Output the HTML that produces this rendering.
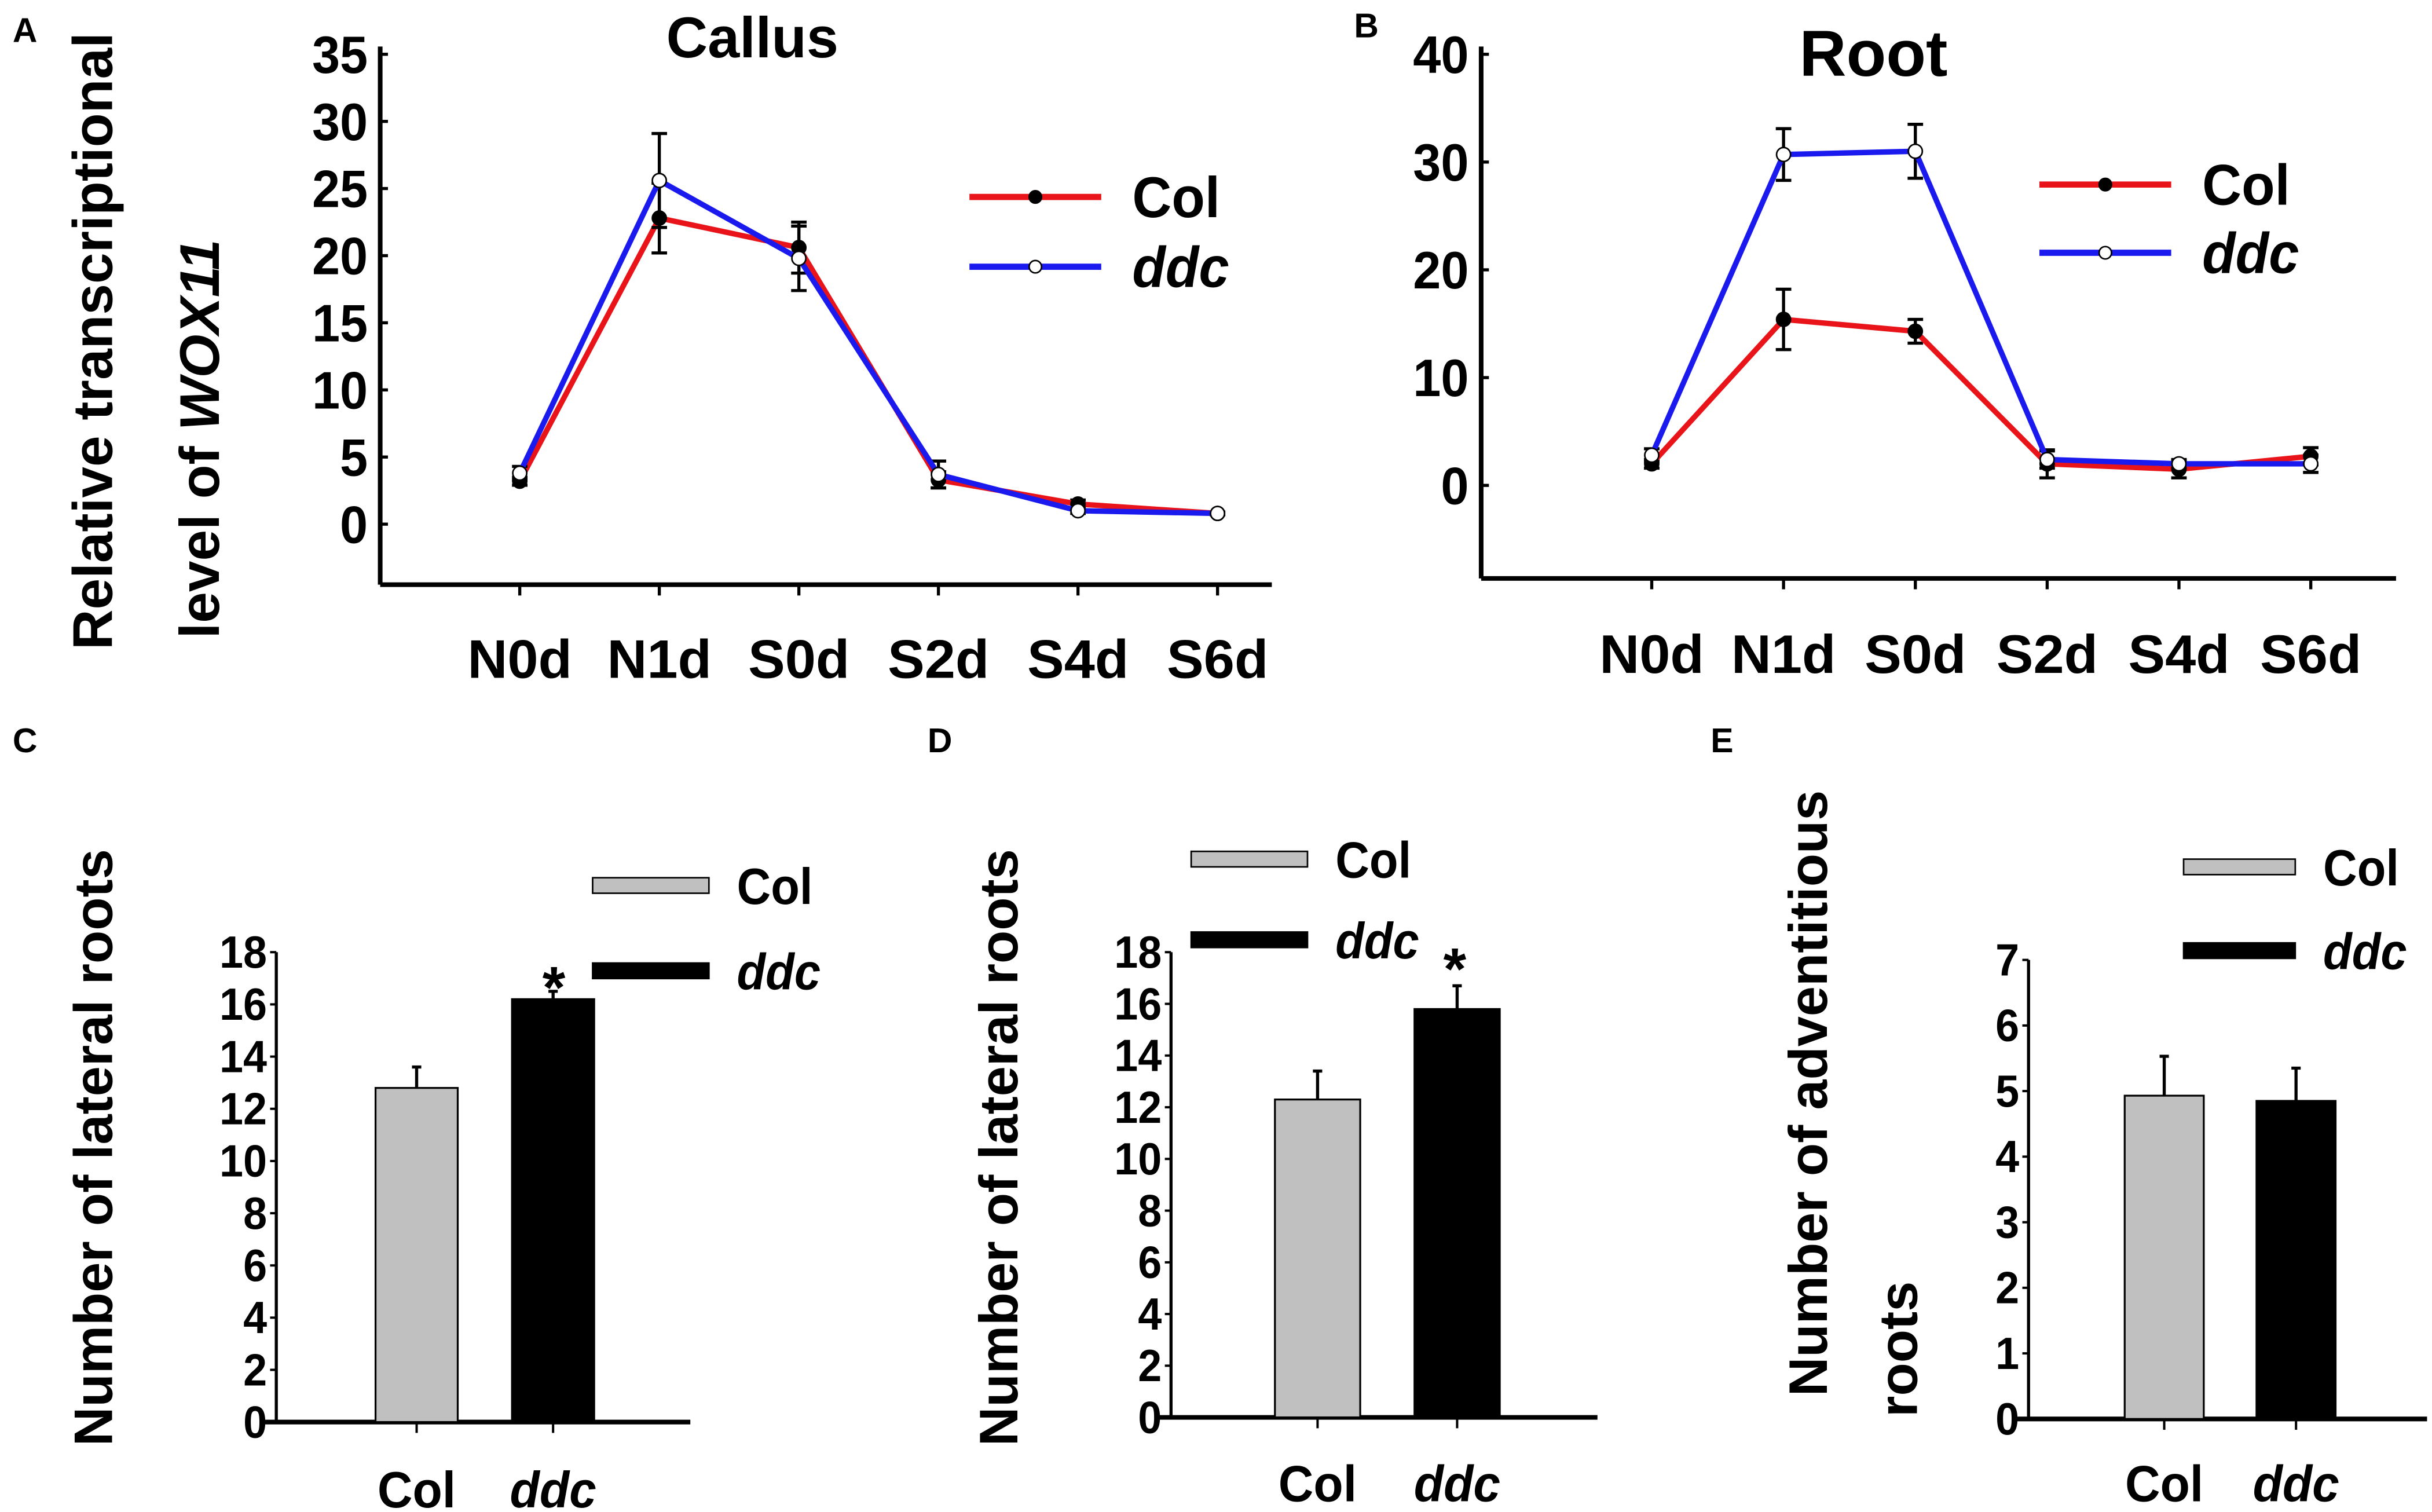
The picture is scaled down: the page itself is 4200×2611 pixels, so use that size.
<!DOCTYPE html>
<html><head><meta charset="utf-8"><style>
html,body{margin:0;padding:0;background:#fff}
svg{display:block}
text{font-family:"Liberation Sans",sans-serif;font-weight:bold;fill:#000}
</style></head><body>
<svg id="fig" xmlns="http://www.w3.org/2000/svg" width="4200" height="2611" viewBox="0 0 1568 975">
<rect width="1568" height="975" fill="#fff"/>
<g id="root"></g>
</svg>
<script>
const catsLine=["N0d","N1d","S0d","S2d","S4d","S6d"];
const callusCol=[3.2,22.8,20.6,3.3,1.5,0.8];
const callusColErr=[0.3,2.6,1.9,0.6,0.3,0.1];
const callusDdc=[3.8,25.6,19.8,3.7,1.0,0.8];
const callusDdcErr=[0.5,3.5,2.4,1.0,0.2,0.1];
const rootCol=[2.0,15.4,14.3,2.0,1.5,2.7];
const rootColErr=[0.4,2.8,1.1,1.3,0.8,0.8];
const rootDdc=[2.8,30.7,31.0,2.4,2.0,2.0];
const rootDdcErr=[0.6,2.4,2.5,0.8,0.4,0.8];
const callusTicks=[0,5,10,15,20,25,30,35];
const rootTicks=[0,10,20,30,40];
const barCats=["Col","ddc"];
const cVals=[12.8,16.2];const cErr=[0.8,0.3];
const dVals=[12.3,15.8];const dErr=[1.1,0.9];
const eVals=[4.93,4.85];const eErr=[0.6,0.5];
const ticks18=[0,2,4,6,8,10,12,14,16,18];
const ticks7=[0,1,2,3,4,5,6,7];

const NS="http://www.w3.org/2000/svg";
const root=document.getElementById('root');
function el(tag,attrs,parent){const e=document.createElementNS(NS,tag);for(const k in attrs)e.setAttribute(k,attrs[k]);(parent||root).appendChild(e);return e;}
function txt(s,x,y,size,anchor,opts){opts=opts||{};const g=el('g',{transform:`translate(${x},${y}) ${opts.rot?'rotate(-90)':''} scale(${opts.sx||1},1)`});const t=el('text',{x:0,y:0,'font-size':size,'text-anchor':anchor||'middle'},g);if(opts.italic)t.setAttribute('font-style','italic');t.textContent=s;return g;}

function linePanel(cfg){
  const g=el('g',{});
  
  
  const ys=v=>cfg.y0-(v-0)*(cfg.y0-cfg.yTop)/cfg.ymax;
  const xs=i=>cfg.x0+cfg.dx*i;
  el('line',{x1:cfg.ax,y1:cfg.axTop,x2:cfg.ax,y2:cfg.axB,stroke:'#000','stroke-width':3},g);
  el('line',{x1:cfg.ax,y1:cfg.axB,x2:cfg.axR,y2:cfg.axB,stroke:'#000','stroke-width':3},g);
  cfg.ticks.forEach(t=>{el('line',{x1:cfg.ax,y1:ys(t),x2:cfg.ax+5,y2:ys(t),stroke:'#000','stroke-width':2},g);const l=txt(String(t),cfg.ax-8,ys(t)+12,34,'end',{sx:0.95});});
  catsLine.forEach((c,i)=>{el('line',{x1:xs(i),y1:cfg.axB,x2:xs(i),y2:cfg.axB+7,stroke:'#000','stroke-width':2},g);const l=txt(c,xs(i),cfg.labY,35,'middle',{sx:1.02});});
  [[cfg.col,cfg.colErr,'#e8141a','#000','col'],[cfg.ddc,cfg.ddcErr,'#1a1aef','#fff','ddc']].forEach(([vals,errs,color,fill,nm])=>{
    vals.forEach((v,i)=>{const e=errs[i];const p=el('path',{d:`M${xs(i)},${ys(v-e)}V${ys(v+e)}M${xs(i)-5},${ys(v-e)}H${xs(i)+5}M${xs(i)-5},${ys(v+e)}H${xs(i)+5}`,stroke:'#000','stroke-width':2,fill:'none'},g);});
    const pts=vals.map((v,i)=>xs(i)+','+ys(v)).join(' ');
    const pl=el('polyline',{points:pts,fill:'none',stroke:color,'stroke-width':3.5},g);
    
    
    vals.forEach((v,i)=>{const c=el('circle',{cx:xs(i),cy:ys(v),r:4.5,fill:fill,stroke:'#000','stroke-width':1},g);});
  });
  const L=cfg.leg;
  [[L.y1,'#e8141a','#000','Col',false],[L.y2,'#1a1aef','#fff','ddc',true]].forEach(([y,color,fill,label,it])=>{
    const lg=el('g',{},g);
    
    
    el('line',{x1:L.x1,y1:y,x2:L.x2,y2:y,stroke:color,'stroke-width':4},lg);
    el('circle',{cx:(L.x1+L.x2)/2,cy:y,r:4,fill:fill,stroke:'#000','stroke-width':1},lg);
    txt(label,L.x2+20,y+13,37,'start',{italic:it,sx:0.95});
  });
}
linePanel({name:'panel-a-callus',ax:245,axTop:30,axB:377,axR:820,x0:335,dx:90,y0:338,yTop:35,ymax:35,ticks:callusTicks,labY:437,col:callusCol,colErr:callusColErr,ddc:callusDdc,ddcErr:callusDdcErr,leg:{x1:625,x2:710,y1:127,y2:172}});
linePanel({name:'panel-b-root',ax:955,axTop:30,axB:373,axR:1545,x0:1065,dx:85,y0:313,yTop:35,ymax:40,ticks:rootTicks,labY:434,col:rootCol,colErr:rootColErr,ddc:rootDdc,ddcErr:rootDdcErr,leg:{x1:1315,x2:1400,y1:119,y2:163}});

function barPanel(cfg){
  const g=el('g',{});
  
  
  const ys=v=>cfg.y0-v*(cfg.y0-cfg.yTop)/cfg.ymax;
  el('line',{x1:cfg.ax,y1:cfg.yTop,x2:cfg.ax,y2:cfg.y0,stroke:'#000','stroke-width':2},g);
  el('line',{x1:cfg.ax-8,y1:cfg.y0,x2:cfg.axR,y2:cfg.y0,stroke:'#000','stroke-width':3},g);
  cfg.ticks.forEach(t=>{el('line',{x1:cfg.ax,y1:ys(t),x2:cfg.ax-4,y2:ys(t),stroke:'#000','stroke-width':1.5},g);const l=txt(String(t),cfg.ax-6,ys(t)+10,29,'end',{sx:0.95});});
  cfg.vals.forEach((v,i)=>{
    const x=cfg.bx[i];const w=cfg.bw;
    const e=cfg.err[i];
    const eb=el('path',{d:`M${x+w/2},${ys(v)}V${ys(v+e)}M${x+w/2-3},${ys(v+e)}H${x+w/2+3}`,stroke:'#000','stroke-width':2,fill:'none'},g);
    
    const r=el('rect',{x:x,y:ys(v),width:w,height:cfg.y0-ys(v),fill:i?'#000':'#c0c0c0',stroke:'#000','stroke-width':1.2},g);
    
    
    el('line',{x1:x+w/2,y1:cfg.y0,x2:x+w/2,y2:cfg.y0+7,stroke:'#000','stroke-width':1.5},g);
    const l=txt(barCats[i],x+w/2,cfg.labY,33,'middle',{italic:i===1,sx:0.95});
    
  });
  if(cfg.star){const s=txt('*',cfg.star[0],cfg.star[1],38,'middle');}
  const L=cfg.leg;
  [[L.y1,'#c0c0c0','Col',false],[L.y2,'#000','ddc',true]].forEach(([y,f,label,it])=>{
    const lg=el('g',{},g);
    
    
    el('rect',{x:L.x1,y:y-5,width:L.x2-L.x1,height:10,fill:f,stroke:'#000','stroke-width':1},lg);
    txt(label,L.x2+18,y+12,33,'start',{italic:it,sx:0.92});
  });
  cfg.titles.forEach(([s,x,y])=>{const t=txt(s,x,y,35,'middle',{rot:true});});
}
barPanel({name:'panel-c',ax:178,axR:445,y0:917,yTop:614,ymax:18,ticks:ticks18,vals:cVals,err:cErr,bx:[242,330],bw:53,labY:972,star:[357,650],leg:{x1:382,x2:457,y1:571,y2:626},titles:[['Number of lateral roots',72,740]]});
barPanel({name:'panel-d',ax:755,axR:1030,y0:914,yTop:614,ymax:18,ticks:ticks18,vals:dVals,err:dErr,bx:[822,912],bw:55,labY:968,star:[938,638],leg:{x1:768,x2:843,y1:554,y2:606},titles:[['Number of lateral roots',656,740]]});
barPanel({name:'panel-e',ax:1308,axR:1565,y0:915,yTop:619,ymax:7,ticks:ticks7,vals:eVals,err:eErr,bx:[1370,1455],bw:51,labY:968,star:null,leg:{x1:1408,x2:1480,y1:559,y2:613},titles:[['Number of adventitious',1178,705],['roots',1236,870]]});

[['A',8,27],['B',873,24],['C',8,485],['D',598,485],['E',1103,485]].forEach(([s,x,y])=>{const t=txt(s,x,y,22,'start');});
let t=txt('Callus',485,37,37,'middle');
t=txt('Root',1208,49,42,'middle');
t=txt('Relative transcriptional',72,220,36,'middle',{rot:true});
const g2=el('g',{transform:'translate(141,283) rotate(-90)'});


const tt=el('text',{x:0,y:0,'font-size':36,'text-anchor':'middle'},g2);
tt.appendChild(document.createTextNode('level of '));
const ts=el('tspan',{'font-style':'italic'},tt);ts.textContent='WOX11';
</script>
</body></html>
